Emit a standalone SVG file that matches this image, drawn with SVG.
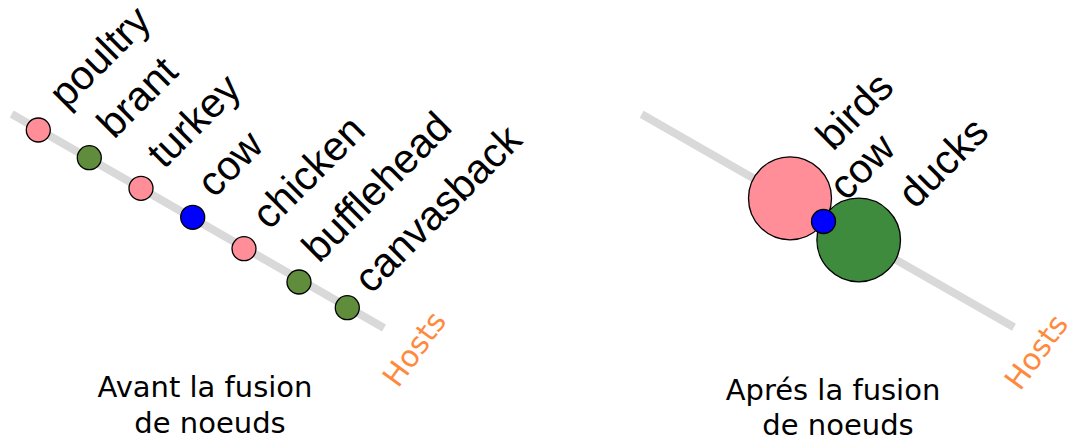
<svg xmlns="http://www.w3.org/2000/svg" width="1075" height="447" viewBox="0 0 1075 447">
<style>
.axis{stroke:#d9d9d9;stroke-width:8;fill:none}
.node{stroke:#000;stroke-width:1.3}
.pink{fill:#ff8e98}
.green{fill:#5f8d3b}
.dgreen{fill:#3e8b3e}
.blue{fill:#0000ff}
.lbl{font-family:"Liberation Sans",Arial,sans-serif;font-size:41px;fill:#000}
.host{font-family:"DejaVu Sans",Verdana,sans-serif;font-size:30px;fill:#ff8a3d}
.cap{font-family:"DejaVu Sans",Verdana,sans-serif;font-size:29px;fill:#000;text-anchor:middle}
</style>
<g id="connectors">
<line class="axis" x1="11.7" y1="114" x2="384" y2="328"/>
<line class="axis" x1="641.7" y1="114.3" x2="1014" y2="327.3"/>
</g>
<g id="poultry"><circle class="node pink" cx="38.3" cy="130" r="12"/><text class="lbl" transform="translate(66,110) rotate(-45)">poultry</text></g>
<g id="brant"><circle class="node green" cx="89.3" cy="157.7" r="12"/><text class="lbl" transform="translate(114,140) rotate(-45)">brant</text></g>
<g id="turkey"><circle class="node pink" cx="141" cy="188.3" r="12"/><text class="lbl" transform="translate(164,170) rotate(-45)">turkey</text></g>
<g id="cow"><circle class="node blue" cx="192.7" cy="217.3" r="12"/><text class="lbl" transform="translate(214,199) rotate(-45)">cow</text></g>
<g id="chicken"><circle class="node pink" cx="244" cy="248.7" r="12"/><text class="lbl" transform="translate(269,231) rotate(-45)">chicken</text></g>
<g id="bufflehead"><circle class="node green" cx="299" cy="282" r="12"/><text class="lbl" transform="translate(319,264) rotate(-45)">bufflehead</text></g>
<g id="canvasback"><circle class="node green" cx="347.3" cy="307.7" r="12"/><text class="lbl" transform="translate(371,295) rotate(-45)">canvasback</text></g>
<g id="hosts-left"><text class="host" transform="translate(398,389) rotate(-54)">Hosts</text></g>
<g id="caption-left"><text class="cap" x="205" y="397">Avant la fusion</text><text class="cap" x="210" y="433">de noeuds</text></g>
<g id="birds"><circle class="node pink" cx="790" cy="198.3" r="41.5"/><text class="lbl" transform="translate(833,152) rotate(-45)">birds</text></g>
<g id="ducks"><circle class="node dgreen" cx="858.7" cy="240" r="41.8"/><text class="lbl" transform="translate(915,210) rotate(-45)">ducks</text></g>
<g id="cow2"><circle class="node blue" cx="823.5" cy="221.5" r="12"/><text class="lbl" transform="translate(846,202) rotate(-45)">cow</text></g>
<g id="hosts-right"><text class="host" transform="translate(1020,392) rotate(-54)">Hosts</text></g>
<g id="caption-right"><text class="cap" x="833" y="400">Aprés la fusion</text><text class="cap" x="838" y="435">de noeuds</text></g>
</svg>
